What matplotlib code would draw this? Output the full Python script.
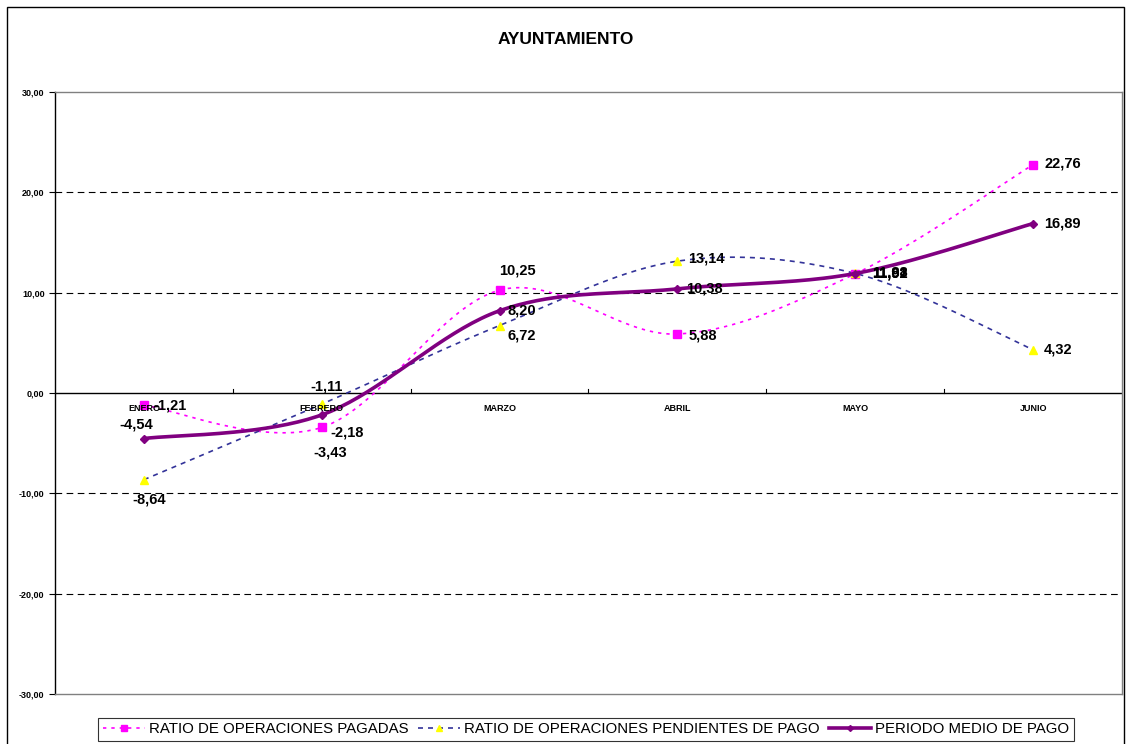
import numpy as np
import matplotlib.pyplot as plt
from matplotlib.patches import Rectangle
from matplotlib.lines import Line2D

# ====================================
# Data
# ====================================
meses = ["ENERO", "FEBRERO", "MARZO", "ABRIL", "MAYO", "JUNIO"]
pagadas = [-1.21, -3.43, 10.25, 5.88, 11.88, 22.76]
pendientes = [-8.64, -1.11, 6.72, 13.14, 11.92, 4.32]
periodo = [-4.54, -2.18, 8.20, 10.38, 11.91, 16.89]

# label offsets (points) for each value, mimicking Excel placement
off_pag = [(7, 0), (-6, -18), (0, 14), (8, -1), (12, 1), (8, 1)]
off_pen = [(-8, -14), (-8, 13), (6, -7), (8, 2), (12, 0), (8, 0)]
off_per = [(-18, 10), (6, -13), (6, 0), (6, 0), (12, 0), (8, 0)]

plt.rcParams['font.family'] = ['Liberation Sans', 'DejaVu Sans']


def fmt(v):
    return f"{v:.2f}".replace(".", ",")


def smooth(y, n=40):
    # Bezier smoothing similar to Excel "smoothed line"
    x = np.arange(len(y), dtype=float)
    pts = np.column_stack([x, np.array(y, dtype=float)])
    out = []
    for i in range(len(pts) - 1):
        p0 = pts[max(i - 1, 0)]
        p1 = pts[i]
        p2 = pts[i + 1]
        p3 = pts[min(i + 2, len(pts) - 1)]
        c1 = p1 + (p2 - p0) / 6
        c2 = p2 - (p3 - p1) / 6
        t = np.linspace(0, 1, n)[:, None]
        seg = ((1 - t) ** 3) * p1 + 3 * ((1 - t) ** 2) * t * c1 + 3 * (1 - t) * t ** 2 * c2 + t ** 3 * p2
        out.append(seg if i == 0 else seg[1:])
    out = np.vstack(out)
    return out[:, 0], out[:, 1]


fig = plt.figure(figsize=(11.31, 7.44), dpi=100)
ax = fig.add_axes([55 / 1131, 1 - 694 / 744, 1067 / 1131, 602 / 744])

# outer border of the chart
fig.patches.append(Rectangle((7 / 1131, -0.01), 1 - 14 / 1131, 1 - 7 / 744 + 0.01,
                             transform=fig.transFigure, fill=False, ec="black", lw=1))

x = np.arange(len(meses))

# grid lines
for g in [20, 10, -10, -20]:
    ax.axhline(g, color="black", lw=0.8, ls=(0, (6, 4)), zorder=1)
ax.axhline(0, color="black", lw=1.0, zorder=1)
for b in np.arange(0.5, 5.5, 1):
    ax.plot([b, b], [0, 0.35], color="black", lw=0.8, zorder=1)

# series
sx, sy = smooth(pagadas)
ax.plot(sx, sy, color="#FF00FF", lw=1.2, ls=(0, (2, 3)), zorder=3)
ax.plot(x, pagadas, ls="none", marker="s", ms=6, color="#FF00FF", zorder=4)

sx, sy = smooth(pendientes)
ax.plot(sx, sy, color="#333399", lw=1.2, ls=(0, (3, 3)), zorder=3)
ax.plot(x, pendientes, ls="none", marker="^", ms=6, color="#FFFF00", zorder=4)

sx, sy = smooth(periodo)
ax.plot(sx, sy, color="#800080", lw=2.6, zorder=5)
ax.plot(x, periodo, ls="none", marker="D", ms=4, color="#800080", zorder=6)

# data labels
for vals, offs in [(pagadas, off_pag), (pendientes, off_pen), (periodo, off_per)]:
    for i, (v, o) in enumerate(zip(vals, offs)):
        ax.annotate(fmt(v), (i, v), xytext=o, textcoords="offset points",
                    fontsize=10.5, fontweight="bold", ha="left", va="center", zorder=7)

# category labels just below the zero line
for i, m in enumerate(meses):
    ax.text(i, -1.5, m, fontsize=6.5, fontweight="bold", ha="center", va="center", zorder=7)

ax.set_xlim(-0.5, 5.5)
ax.set_ylim(-30, 30)
ax.set_xticks([])
ax.set_yticks(np.arange(-30, 31, 10))
ax.set_yticklabels([fmt(v) for v in np.arange(-30, 31, 10)], fontsize=6.5, fontweight="bold")
ax.tick_params(axis="y", length=4, width=0.8, colors="black")
for s in ax.spines.values():
    s.set_color("#808080")
    s.set_linewidth(1.0)
ax.spines["left"].set_color("black")

fig.text(0.5, 1 - 40 / 744, "AYUNTAMIENTO", fontsize=12.5, fontweight="bold", ha="center", va="center")

# legend
handles = [
    Line2D([], [], color="#FF00FF", lw=1.2, ls=(0, (2, 3)), marker="s", ms=5, markerfacecolor="#FF00FF"),
    Line2D([], [], color="#333399", lw=1.2, ls=(0, (3, 3)), marker="^", ms=5, markerfacecolor="#FFFF00",
           markeredgecolor="#FFFF00"),
    Line2D([], [], color="#800080", lw=2.6, marker="D", ms=3),
]
labels = ["RATIO DE OPERACIONES PAGADAS", "RATIO DE OPERACIONES PENDIENTES DE PAGO", "PERIODO MEDIO DE PAGO"]
leg = fig.legend(handles, labels, loc="center", bbox_to_anchor=(586 / 1131, 1 - 729 / 744), ncol=3,
                 frameon=True, fancybox=False, edgecolor="black", handlelength=2.8,
                 handletextpad=0.3, columnspacing=0.6, borderpad=0.3,
                 prop={"family": ["Liberation Sans"], "size": 10.8})
leg.get_frame().set_linewidth(0.8)

fig.savefig("out.png", dpi=100)
